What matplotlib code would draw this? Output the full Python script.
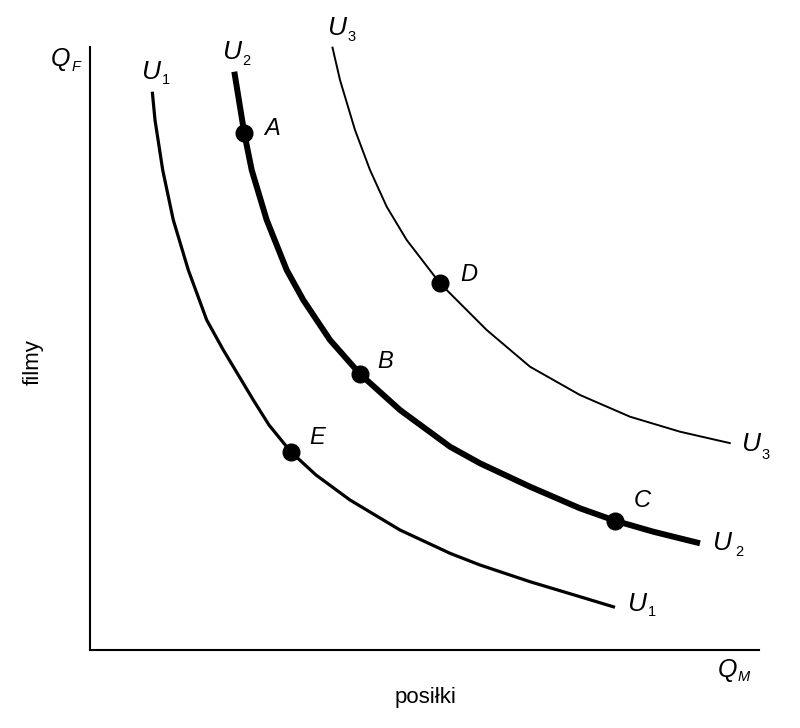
import matplotlib
matplotlib.use("Agg")
import matplotlib.pyplot as plt

plt.rcParams['font.family'] = ['Liberation Sans', 'DejaVu Sans']

# Indifference curves (arbitrary units: meals on x, films on y)
u1_x = [62.3, 65, 72.7, 83.3, 98.3, 116.7, 133.3, 163.3, 179, 200.7, 226, 260, 310, 360, 390, 440, 490, 525]
u1_y = [558.3, 530, 480, 430, 380, 330, 300, 250, 225, 198.3, 175, 150, 120, 96.7, 85, 68.3, 53.3, 42.7]

u2_x = [144.3, 154.3, 161.7, 176.7, 196.7, 213.3, 240, 270, 310, 360, 390, 440, 490, 525, 563.3, 610]
u2_y = [578.3, 516.7, 480, 430, 380, 350, 310, 276, 240, 203.3, 186.7, 163.3, 141.7, 129.3, 118.3, 106.7]

u3_x = [242.3, 250, 265, 280, 296.7, 316.7, 350, 380, 396.7, 440, 490, 540, 590, 640.7]
u3_y = [603.3, 570, 520, 480, 443.3, 410, 366.7, 336.7, 320, 283.3, 255, 233.3, 218.3, 206.7]

# Labelled bundles
pt_names = ['A', 'B', 'C', 'D', 'E']
pt_x = [154.3, 270, 525, 350, 200.7]
pt_y = [516.7, 276, 129.3, 366.7, 198.3]

fig = plt.figure(figsize=(8, 7.28), dpi=100)
ax = fig.add_axes([90/800, 78/728, 669/800, 603.3/728])
ax.set_xlim(0, 669)
ax.set_ylim(0, 603.3)
for s in ['top', 'right']:
    ax.spines[s].set_visible(False)
for s in ['left', 'bottom']:
    ax.spines[s].set_linewidth(1.5)
ax.set_xticks([])
ax.set_yticks([])

ax.plot(u1_x, u1_y, color='black', lw=2.3, solid_capstyle='butt', solid_joinstyle='round', clip_on=False)
ax.plot(u2_x, u2_y, color='black', lw=4.3, solid_capstyle='butt', solid_joinstyle='round', clip_on=False)
ax.plot(u3_x, u3_y, color='black', lw=1.4, solid_capstyle='butt', solid_joinstyle='round', clip_on=False)
ax.plot(pt_x, pt_y, 'o', color='black', ms=12, clip_on=False, zorder=5)

# point labels (offset from their points)
lab_dx = [28, 25, 27, 29, 26]
lab_dy = [5, 12, 20, 9, 14]
for n, x, y, dx, dy in zip(pt_names, pt_x, pt_y, lab_dx, lab_dy):
    ax.text(x + dx, y + dy, n, fontsize=17, style='italic', ha='center', va='center')

def sublabel(xu, yu, xs, ys, main, sub, size=19, subsize=10.5):
    ax.text(xu, yu, main, fontsize=size, style='italic', ha='center', va='center', clip_on=False)
    ax.text(xs, ys, sub, fontsize=subsize, ha='center', va='center', clip_on=False)

# curve labels: top ends
sublabel(61, 578, 76, 570, 'U', '1')
sublabel(142, 598, 156, 589, 'U', '2')
sublabel(247, 622, 262, 613, 'U', '3')
# curve labels: right ends
sublabel(661, 206, 676, 195, 'U', '3')
sublabel(632, 107, 649, 98, 'U', '2')
sublabel(547, 46, 562, 38, 'U', '1')

# axis letters
ax.text(-29, 591, 'Q', fontsize=18, style='italic', ha='center', va='center', clip_on=False)
ax.text(-14, 583, 'F', fontsize=10.5, style='italic', ha='center', va='center', clip_on=False)
ax.text(638, -20, 'Q', fontsize=18, style='italic', ha='center', va='center', clip_on=False)
ax.text(654, -27, 'M', fontsize=10.5, style='italic', ha='center', va='center', clip_on=False)

ax.text(-57, 288, 'filmy', fontsize=16, rotation=90, ha='center', va='center', clip_on=False)
ax.text(335, -48, 'posiłki', fontsize=16, ha='center', va='center', clip_on=False)

fig.savefig('out.png', dpi=100, facecolor='white')
